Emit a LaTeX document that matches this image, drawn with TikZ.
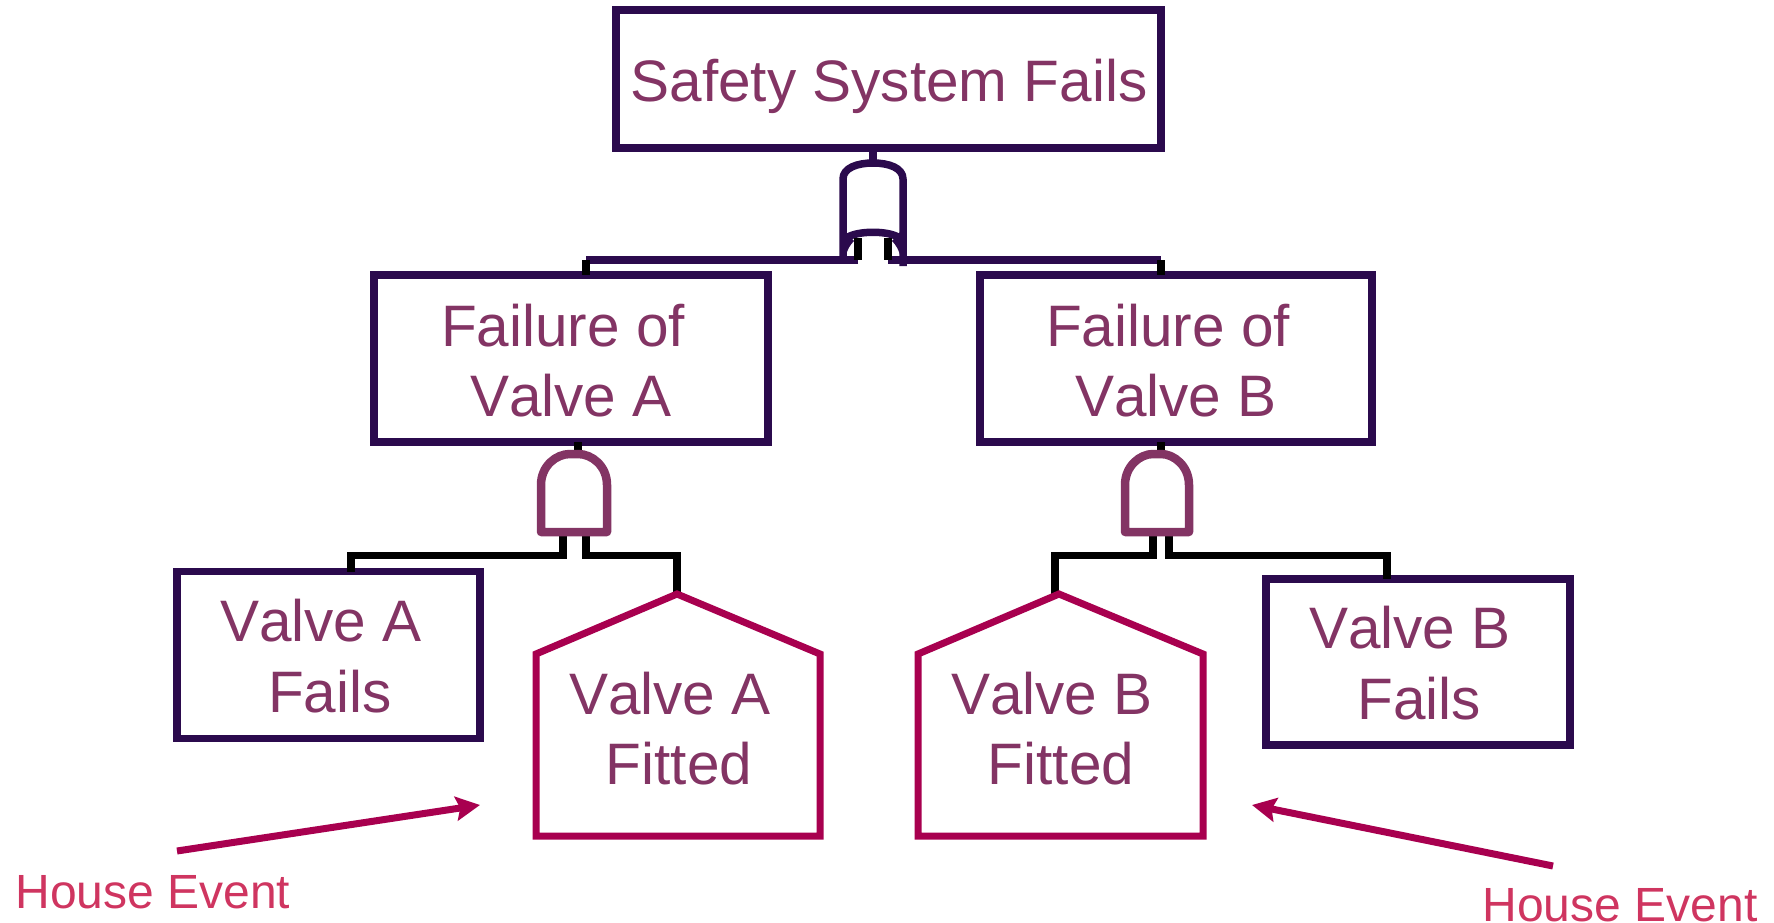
\documentclass[tikz,border=0pt]{standalone}
\usepackage{fontspec}
\setmainfont[Kerning=Off]{Liberation Sans}
\usetikzlibrary{arrows.meta}
\definecolor{dkp}{HTML}{2B0A4D}
\definecolor{mauve}{HTML}{833464}
\definecolor{crim}{HTML}{A8004F}
\definecolor{hev}{HTML}{CF3560}
\tikzset{
  x=1pt,y=-1pt,
  eventbox/.style={draw=dkp,line width=7.5pt,rectangle,inner sep=0pt,outer sep=0pt,miter limit=10},
  lbl/.style={text=mauve,font=\fontsize{58.5}{59}\selectfont,anchor=base,inner sep=0pt},
  hlbl/.style={text=hev,font=\fontsize{48}{48}\selectfont,anchor=base,inner sep=0pt},
  wire/.style={line width=7.5pt,line join=miter},
  housepath/.style={draw=crim,line width=7pt,line join=miter},
  gateor/.style={draw=dkp,line width=7.5pt,line join=round},
  gateand/.style={draw=mauve,line width=8.5pt,line join=round},
  note/.style={draw=crim,line width=7pt,-{Stealth[length=24pt,width=24pt,inset=4pt]}},
}
\begin{document}
\begin{tikzpicture}
\useasboundingbox (0,0) rectangle (1774,923);
% boxes
\node[eventbox,minimum width=545pt,minimum height=138pt] (top) at (888.5,79) {};
\node[eventbox,minimum width=394pt,minimum height=167pt] (fa) at (571,358.5) {};
\node[eventbox,minimum width=392pt,minimum height=167pt] (fb) at (1176,358.5) {};
\node[eventbox,minimum width=303pt,minimum height=167pt] (va) at (328.5,655) {};
\node[eventbox,minimum width=304pt,minimum height=166pt] (vb) at (1418,662) {};
% gate coordinates
\coordinate (gt) at (873,163);
\coordinate (gi1) at (858,238);
\coordinate (gi2) at (888,238);
\coordinate (ga) at (578,454);
\coordinate (gai1) at (563,532);
\coordinate (gai2) at (586,532);
\coordinate (gb) at (1161,454);
\coordinate (gbi1) at (1153,532);
\coordinate (gbi2) at (1169,532);
\coordinate (jl) at (858,260);
\coordinate (jr) at (888,260);
\coordinate (ha) at (677,594);
\coordinate (hb) at (1059,594);
\coordinate (wa) at (677,597);
\coordinate (wb) at (1055,597);
% wires below the gates and houses
\draw[wire,dkp] (top.south -| gt) -- (gt);
\draw[wire,black] (fa.south -| ga) -- (ga);
\draw[wire,black] (fb.south -| gb) -- (gb);
\draw[wire,black] (gai1) |- (351,555.5) -- (va.north -| 351,555.5);
\draw[wire,black] (gai2) |- (677,555.5) -- (wa);
\draw[wire,black] (gbi1) |- (1055,555.5) -- (wb);
\draw[wire,black] (gbi2) |- (1387,555.5) -- (vb.north -| 1387,555.5);
% houses
\draw[housepath] (ha) -- (820,654) -- (820,836) -- (536,836) -- (536,654) -- cycle;
\draw[housepath] (hb) -- (1203,654) -- (1203,836) -- (918,836) -- (918,654) -- cycle;
% OR gate
\draw[gateor] (843,262) -- (843,179) .. controls (843,168) and (857,163) .. (gt) .. controls (889,163) and (903,168) .. (903,179) -- (903,266);
\draw[gateor] (845,239) .. controls (855,230) and (891,230) .. (901,239);
\fill[dkp] (846,232) -- (854,241) .. controls (850,245) and (847,250) .. (845,258) -- (842,258) -- cycle;
\fill[dkp] (900,232) -- (892,241) .. controls (896,245) and (899,250) .. (901,258) -- (904,258) -- cycle;
\draw[wire,dkp] (jl) -- (586,260);
\draw[wire,dkp] (jr) -- (1161,260);
\draw[wire,black] (gi1) -- (jl);
\draw[wire,black] (gi2) -- (jr);
\draw[wire,black] (586,260) -- (fa.north -| 586,260);
\draw[wire,black] (1161,260) -- (fb.north -| 1161,260);
% AND gates
\draw[gateand] (541,532) -- (541,485) .. controls (541,466) and (556,454) .. (570,454) -- (578,454) .. controls (592,454) and (607,466) .. (607,485) -- (607,532) -- cycle;
\draw[gateand] (1125,532) -- (1125,485) .. controls (1125,466) and (1140,454) .. (1153,454) -- (1161,454) .. controls (1174,454) and (1189,466) .. (1189,485) -- (1189,532) -- cycle;
% arrows
\coordinate (a1s) at (177,851);
\coordinate (a1e) at (480,805);
\coordinate (a2s) at (1553,866);
\coordinate (a2e) at (1252,805);
\draw[note] (a1s) -- (a1e);
\draw[note] (a2s) -- (a2e);
% labels
\node[lbl] (t0) at (889,102) {Safety System Fails};
\node[lbl] (t1a) at (563,346) {Failure of};
\node[lbl] (t1b) at (571,416) {Valve A};
\node[lbl] (t2a) at (1168,346) {Failure of};
\node[lbl] (t2b) at (1176,416) {Valve B};
\node[lbl] (t3a) at (321,641) {Valve A};
\node[lbl] (t3b) at (330,712) {Fails};
\node[lbl] (t4a) at (670,714) {Valve A};
\node[lbl] (t4b) at (679,784) {Fitted};
\node[lbl] (t5a) at (1052,714) {Valve B};
\node[lbl] (t5b) at (1061,784) {Fitted};
\node[lbl] (t6a) at (1410,648) {Valve B};
\node[lbl] (t6b) at (1419,719) {Fails};
\node[hlbl] (h1) at (153,908) {House Event};
\node[hlbl] (h2) at (1620,921) {House Event};
\end{tikzpicture}
\end{document}
